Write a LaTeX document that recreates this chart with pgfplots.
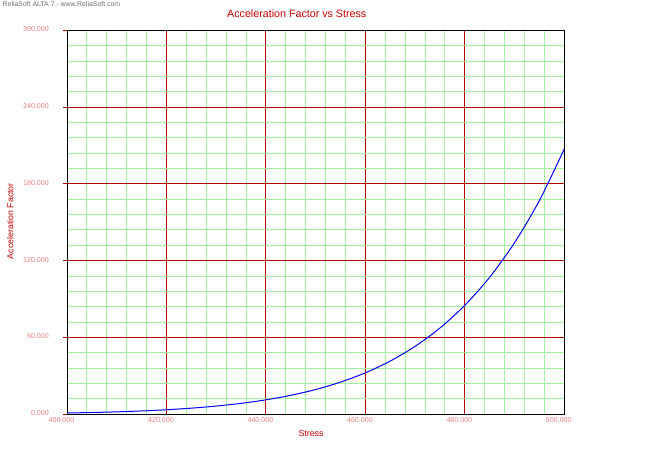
\documentclass[border=0pt]{standalone}
\usepackage{fontspec}
\setmainfont{Liberation Sans}
\usepackage{pgfplots}
\pgfplotsset{compat=1.18}

\definecolor{titlered}{RGB}{200,0,0}
\definecolor{ticklab}{RGB}{232,128,128}
\definecolor{majgrid}{RGB}{180,0,0}
\definecolor{mingrid}{RGB}{160,242,160}
\definecolor{wmgray}{RGB}{110,110,110}

\begin{document}
\begin{tikzpicture}
    \useasboundingbox (0,0) rectangle (650pt,452pt);
    % watermark
    \node[anchor=base west, inner sep=0pt, text=wmgray, font=\fontsize{6.9}{8}\selectfont]
        at (2.5pt,445pt) {ReliaSoft ALTA 7 - www.ReliaSoft.com};
    \begin{axis}[
        at={(67pt,37.7pt)}, anchor=south west,
        scale only axis,
        width=497.3pt, height=384pt,
        xmin=400, xmax=500,
        ymin=0, ymax=300,
        xtick={400,420,...,500},
        ytick={0,60,...,300},
        minor x tick num=4,
        minor y tick num=4,
        grid=both,
        major grid style={color=majgrid, line width=1pt},
        minor grid style={color=mingrid, line width=1pt},
        tick pos=left,
        xtick align=inside,
        ytick align=outside,
        major tick length=4pt,
        minor tick length=0pt,
        major tick style={color=majgrid, line width=1pt},
        axis line style={black, line width=1pt},
        ticklabel style={font=\fontsize{7.1}{8}\selectfont, text=ticklab, inner sep=0pt},
        xticklabel style={anchor=north, yshift=-3pt, xshift=-5.5pt},
        yticklabel style={anchor=east, xshift=-14pt, yshift=1pt},
        /pgf/number format/.cd, fixed, fixed zerofill, precision=3, 1000 sep={},
            assume math mode=true,
        /pgfplots/.cd,
        every axis title/.style={at={(0.462,1)}, anchor=base, yshift=12.3pt, inner sep=0pt,
            text=titlered, font=\fontsize{10.7}{12}\selectfont},
        every axis x label/.style={at={(0.4906,0)}, anchor=base, yshift=-22.4pt, inner sep=0pt,
            text=titlered, font=\fontsize{8.8}{10}\selectfont},
        every axis y label/.style={at={(0,0.503)}, xshift=-53.7pt, rotate=90, anchor=base, inner sep=0pt,
            text=titlered, font=\fontsize{8.8}{10}\selectfont},
        title={Acceleration Factor vs Stress},
        xlabel={Stress},
        ylabel={Acceleration Factor},
    ]
    %% curve
    \addplot[color=blue, line width=1pt, smooth, no marks]
        coordinates {
            (400,1.00)(405,1.39)(410,1.92)(415,2.62)(420,3.56)
            (425,4.80)(430,6.43)(435,8.55)(440,11.30)(445,14.84)
            (450,19.36)(455,25.13)(460,32.41)(465,41.60)(470,53.09)
            (475,67.43)(480,85.20)(485,107.1)(490,134.1)(495,167.1)
            (500,207.3)
        };
    \end{axis}
\end{tikzpicture}
\end{document}
